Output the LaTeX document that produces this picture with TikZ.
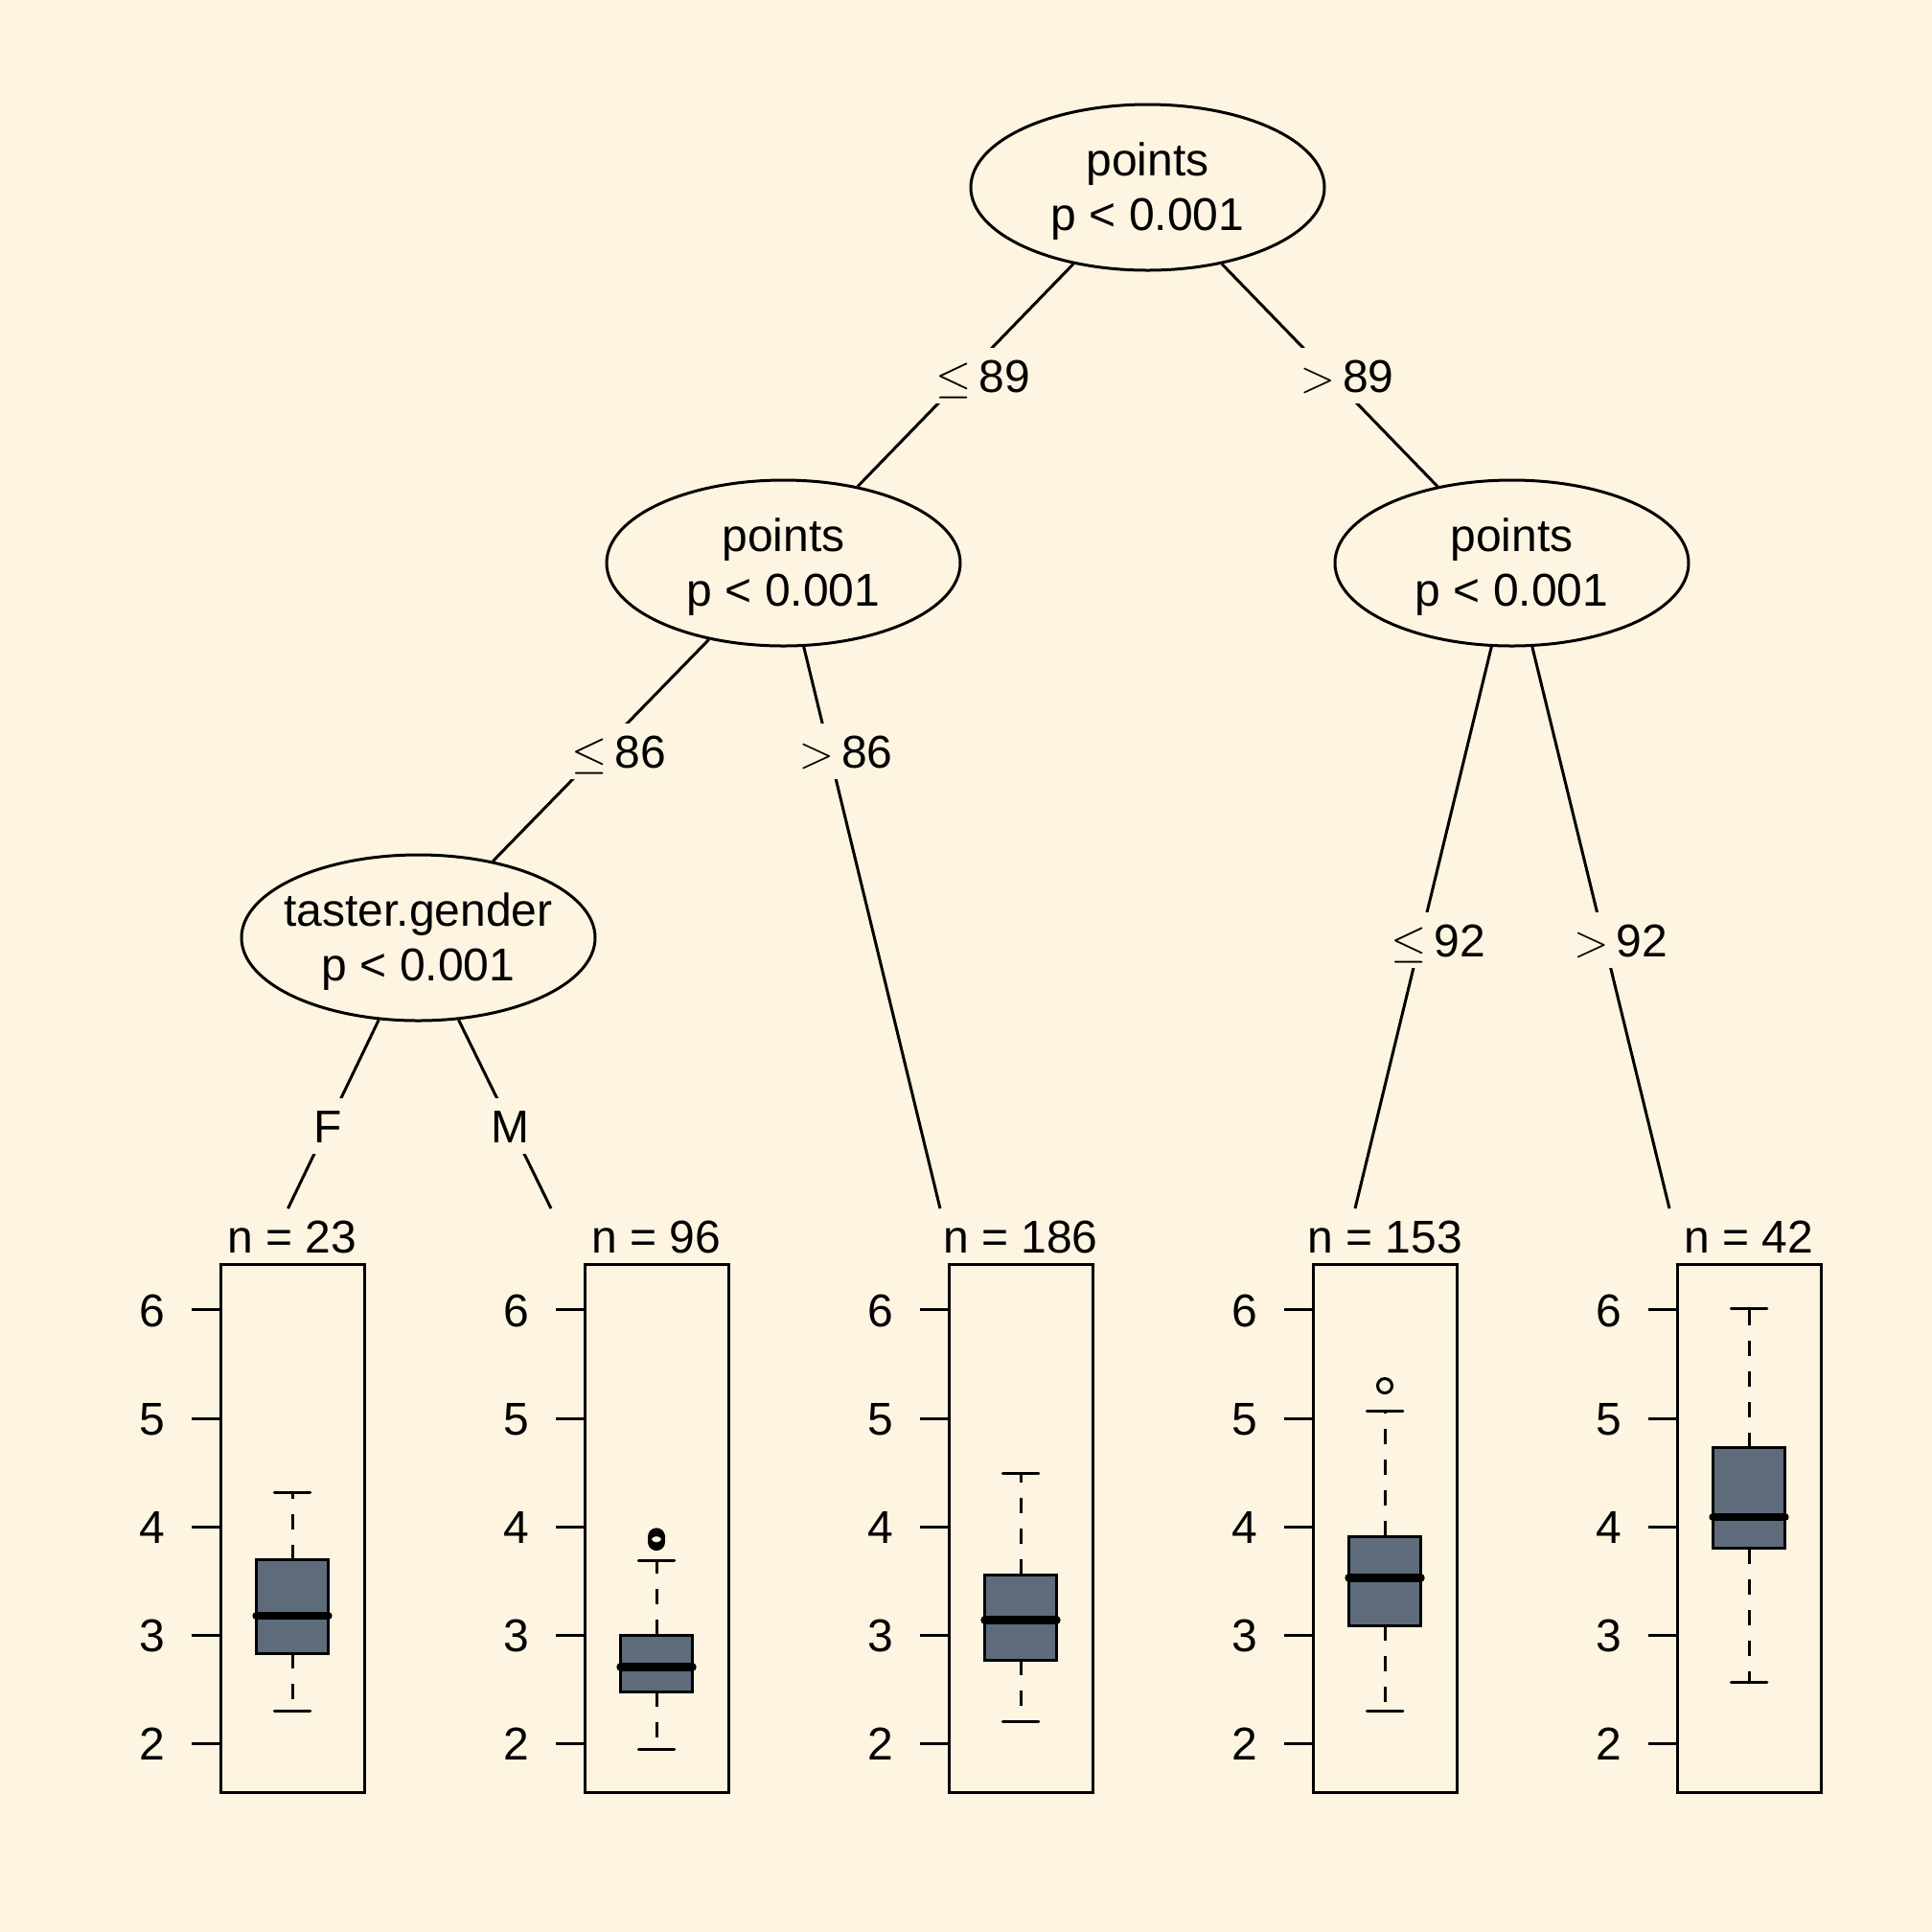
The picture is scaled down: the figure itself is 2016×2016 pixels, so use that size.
\documentclass[tikz,border=0pt]{standalone}
\usepackage{fontspec}
\setmainfont{Liberation Sans}
\usetikzlibrary{shapes.geometric}
\definecolor{bgc}{HTML}{FDF5E1}
\definecolor{boxc}{HTML}{5D6B7B}
\newcommand{\nodetext}[2]{\makebox[0pt]{\raisebox{3.05pt}[0pt][0pt]{\begin{tabular}[t]{@{}c@{}}#1\\#2\end{tabular}}}}
\newcommand{\bxpanel}[8]{%
\begin{scope}[shift={(#2,0)}]
 \node[frame] (#1) at (0,1595.1) {};
 \node[ntext] (#1n) at (0,1307.5) {#3};
 \foreach \tk in {2,...,6}{
   \draw[tick] (-75,{yv(\tk)}) -- (-105,{yv(\tk)});
   \node[ticklab] (#1t\tk) at (-146,{yv(\tk)}) {\tk};
 }
 \draw[whisk] (0,{yv(#7)}) -- (0,{yv(#8)});
 \draw[whisk] (0,{yv(#5)}) -- (0,{yv(#4)});
 \draw[capline] (-18.75,{yv(#8)}) -- (18.75,{yv(#8)});
 \draw[capline] (-18.75,{yv(#4)}) -- (18.75,{yv(#4)});
 \filldraw[bxfill] (-37.5,{yv(#5)}) rectangle (37.5,{yv(#7)});
 \draw[medline] (-37.5,{yv(#6)}) -- (37.5,{yv(#6)});
\end{scope}}
\begin{document}
\begin{tikzpicture}[x=0.25pt,y=-0.25pt,
  font=\fontsize{12}{14.4}\selectfont,
  line width=0.75pt,
  declare function={yv(\t)=1366.8+(6-\t)*113.2;},
  tnode/.style={ellipse, draw, fill=bgc, line width=0.75pt, minimum width=92.25pt, minimum height=43.25pt, inner sep=0pt},
  edge/.style={line width=0.75pt},
  elabel/.style={fill=bgc, inner xsep=1.5pt, inner ysep=0pt, minimum height=14.5pt, text height=8.6pt, text depth=0pt},
  frame/.style={draw, line width=0.75pt, minimum width=37.5pt, minimum height=137.9pt, inner sep=0pt, outer sep=0pt},
  ntext/.style={anchor=base, inner sep=0pt},
  ticklab/.style={inner sep=0pt, text height=8.6pt, text depth=0pt},
  tick/.style={line width=0.75pt},
  whisk/.style={line width=0.75pt, dash pattern=on 4pt off 4pt},
  capline/.style={line width=0.75pt, line cap=round},
  bxfill/.style={fill=boxc, draw=black, line width=0.75pt},
  medline/.style={line width=2.1pt, line cap=round},
  outl/.style={line width=0.75pt}]
\fill[bgc] (0,0) rectangle (2016,2016);
\useasboundingbox (0,0) rectangle (2016,2016);

% inner nodes
\node[tnode] (root) at (1197.5,195.5) {\nodetext{points}{p < 0.001}};
\node[tnode] (n2) at (817.5,587.5) {\nodetext{points}{p < 0.001}};
\node[tnode] (n3) at (436.5,978.5) {\nodetext{taster.gender}{p < 0.001}};
\node[tnode] (n4) at (1577.5,587.5) {\nodetext{points}{p < 0.001}};

% leaf attachment points
\coordinate (t1) at (300.5,1261);
\coordinate (t2) at (575,1261);
\coordinate (t3) at (981,1261);
\coordinate (t4) at (1414,1261);
\coordinate (t5) at (1742,1261);

% edges
\draw[edge] (root) -- (n2);
\draw[edge] (root) -- (n4);
\draw[edge] (n2) -- (n3);
\draw[edge] (n2) -- (t3);
\draw[edge] (n3) -- (t1);
\draw[edge] (n3) -- (t2);
\draw[edge] (n4) -- (t4);
\draw[edge] (n4) -- (t5);

% edge labels
\node[elabel] (e1) at (1026,392) {$\leq$\,89};
\node[elabel] (e2) at (1405.5,392) {$>$\,89};
\node[elabel] (e3) at (645.5,784) {$\leq$\,86};
\node[elabel] (e4) at (882.5,784) {$>$\,86};
\node[elabel] (e5) at (342.4,1175) {F};
\node[elabel] (e6) at (532.4,1175) {M};
\node[elabel] (e7) at (1501,981) {$\leq$\,92};
\node[elabel] (e8) at (1691,981) {$>$\,92};

% terminal panels
\bxpanel{p1}{305}{n = 23}{2.305}{2.832}{3.178}{3.695}{4.317}
\bxpanel{p2}{685}{n = 96}{1.949}{2.482}{2.707}{3.0}{3.688}
\bxpanel{p3}{1065}{n = 186}{2.20}{2.77}{3.14}{3.56}{4.49}
\bxpanel{p4}{1445}{n = 153}{2.30}{3.09}{3.53}{3.91}{5.07}
\bxpanel{p5}{1825}{n = 42}{2.57}{3.80}{4.09}{4.729}{6.01}

% outliers
\draw[outl] (685,{yv(3.86)}) circle[radius=1.875pt];
\draw[outl] (685,{yv(3.885)}) circle[radius=1.875pt];
\draw[outl] (685,{yv(3.91)}) circle[radius=1.875pt];
\draw[outl] (1445,{yv(5.30)}) circle[radius=1.875pt];
\end{tikzpicture}
\end{document}
